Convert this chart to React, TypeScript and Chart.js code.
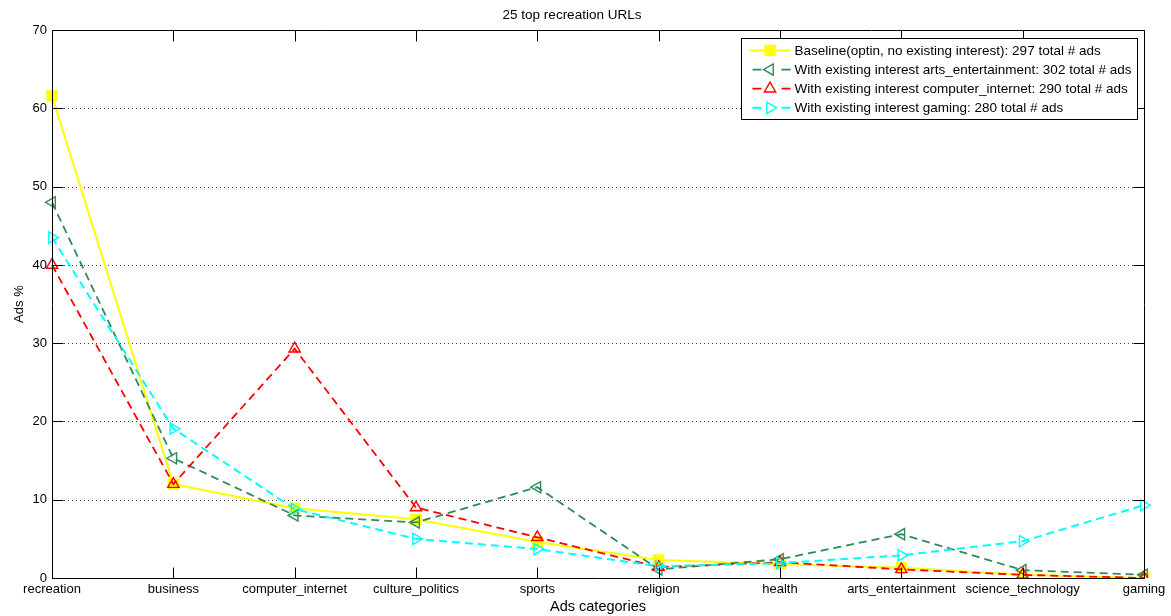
import React, { useEffect, useRef } from "react";
import { Chart, registerables } from "chart.js";

Chart.register(...registerables);

const FONT = "'Liberation Sans', Arial, Helvetica, sans-serif";

const categories = [
  "recreation",
  "business",
  "computer_internet",
  "culture_politics",
  "sports",
  "religion",
  "health",
  "arts_entertainment",
  "science_technology",
  "gaming",
];

const baselineValues = [61.6, 12.0, 8.9, 7.5, 4.6, 2.3, 1.8, 1.3, 0.4, 0.0];
const artsEntValues = [48.0, 15.3, 8.0, 7.1, 11.6, 1.1, 2.4, 5.6, 1.0, 0.4];
const compIntValues = [40.0, 12.0, 29.3, 9.0, 5.2, 1.4, 2.0, 1.1, 0.4, 0.0];
const gamingValues = [43.5, 19.1, 8.8, 5.0, 3.7, 1.5, 1.9, 2.9, 4.7, 9.3];

const seriesLabels = [
  "Baseline(optin, no existing interest): 297 total # ads",
  "With existing interest arts_entertainment: 302 total # ads",
  "With existing interest computer_internet: 290 total # ads",
  "With existing interest gaming: 280 total # ads",
];

const yTicks = [0, 10, 20, 30, 40, 50, 60, 70];

const titleText = "25 top recreation URLs";
const xTitle = "Ads categories";
const yTitle = "Ads %";

type SeriesStyle = {
  color: string;
  dashed: boolean;
  width: number;
  marker: "rect" | "triangle";
  rotation: number;
  filled: boolean;
  radius: number;
};

const seriesStyles: SeriesStyle[] = [
  { color: "#ffff00", dashed: false, width: 2, marker: "rect", rotation: 0, filled: true, radius: 7 },
  { color: "#2e8b57", dashed: true, width: 1.8, marker: "triangle", rotation: -90, filled: false, radius: 6.5 },
  { color: "#ff0000", dashed: true, width: 1.8, marker: "triangle", rotation: 0, filled: false, radius: 6.5 },
  { color: "#00ffff", dashed: true, width: 2, marker: "triangle", rotation: 90, filled: false, radius: 6.5 },
];

const DASH = [8, 5];

function drawMarker(
  ctx: CanvasRenderingContext2D,
  s: SeriesStyle,
  x: number,
  y: number,
  r: number
) {
  ctx.save();
  ctx.translate(x, y);
  ctx.rotate((s.rotation * Math.PI) / 180);
  ctx.beginPath();
  if (s.marker === "rect") {
    const h = r * Math.SQRT1_2;
    ctx.rect(-h, -h, 2 * h, 2 * h);
  } else {
    for (let k = 0; k < 3; k++) {
      const a = (k * 2 * Math.PI) / 3;
      const px = Math.sin(a) * r;
      const py = -Math.cos(a) * r;
      if (k === 0) ctx.moveTo(px, py);
      else ctx.lineTo(px, py);
    }
    ctx.closePath();
  }
  ctx.setLineDash([]);
  ctx.lineWidth = 1.4;
  ctx.strokeStyle = s.color;
  if (s.filled) {
    ctx.fillStyle = s.color;
    ctx.fill();
  }
  ctx.stroke();
  ctx.restore();
}

const framePlugin = {
  id: "matlabFrame",
  beforeDatasetsDraw(chart: any) {
    const { ctx, chartArea: ca, scales } = chart;
    const ys = scales.y;
    ctx.save();
    ctx.strokeStyle = "#444";
    ctx.lineWidth = 1;
    ctx.setLineDash([1, 3]);
    yTicks.forEach((v) => {
      if (v === yTicks[0] || v === yTicks[yTicks.length - 1]) return;
      const py = Math.round(ys.getPixelForValue(v)) + 0.5;
      ctx.beginPath();
      ctx.moveTo(ca.left, py);
      ctx.lineTo(ca.right, py);
      ctx.stroke();
    });
    ctx.restore();
  },
  afterDatasetsDraw(chart: any) {
    const { ctx, chartArea: ca, scales } = chart;
    const xs = scales.x;
    const ys = scales.y;
    const L = Math.round(ca.left) + 0.5;
    const R = Math.round(ca.right) + 0.5;
    const T = Math.round(ca.top) + 0.5;
    const B = Math.round(ca.bottom) + 0.5;
    const tl = 11;
    ctx.save();
    ctx.setLineDash([]);
    ctx.strokeStyle = "#000";
    ctx.lineWidth = 1;
    ctx.beginPath();
    ctx.rect(L, T, R - L, B - T);
    ctx.stroke();
    ctx.beginPath();
    categories.forEach((_, i) => {
      const px = Math.round(xs.getPixelForValue(i)) + 0.5;
      ctx.moveTo(px, B);
      ctx.lineTo(px, B - tl);
      ctx.moveTo(px, T);
      ctx.lineTo(px, T + tl);
    });
    yTicks.forEach((v) => {
      const py = Math.round(ys.getPixelForValue(v)) + 0.5;
      ctx.moveTo(L, py);
      ctx.lineTo(L + tl, py);
      ctx.moveTo(R, py);
      ctx.lineTo(R - tl, py);
    });
    ctx.stroke();

    // legend
    ctx.font = `13.5px ${FONT}`;
    const maxW = Math.max(...seriesLabels.map((t) => ctx.measureText(t).width));
    const boxW = 8 + 41 + 4 + maxW + 7;
    const bRight = Math.round(ca.right - 7) + 0.5;
    const bLeft = Math.round(bRight - boxW) + 0.5;
    const bTop = Math.round(ca.top + 8) + 0.5;
    const rowH = 19.1;
    const boxH = 81;
    ctx.fillStyle = "#fff";
    ctx.fillRect(bLeft, bTop, bRight - bLeft, boxH);
    ctx.strokeStyle = "#000";
    ctx.lineWidth = 1;
    ctx.strokeRect(bLeft, bTop, bRight - bLeft, boxH);
    seriesLabels.forEach((label, i) => {
      const s = seriesStyles[i];
      const yy = bTop + 12 + i * rowH;
      const x0 = bLeft + 8;
      const x1 = x0 + 41;
      const xm = (x0 + x1) / 2;
      ctx.strokeStyle = s.color;
      ctx.lineWidth = s.width;
      ctx.setLineDash([]);
      ctx.beginPath();
      if (s.dashed) {
        ctx.moveTo(x0 + 3, yy);
        ctx.lineTo(x0 + 12, yy);
        ctx.moveTo(x1 - 9, yy);
        ctx.lineTo(x1, yy);
      } else {
        ctx.moveTo(x0, yy);
        ctx.lineTo(x1, yy);
      }
      ctx.stroke();
      drawMarker(ctx, s, xm, yy, s.radius);
      ctx.fillStyle = "#000";
      ctx.textAlign = "left";
      ctx.textBaseline = "middle";
      ctx.font = `13.5px ${FONT}`;
      ctx.fillText(label, x1 + 4, yy + 0.5);
    });
    ctx.restore();
  },
};

export default function App() {
  const canvasRef = useRef<HTMLCanvasElement | null>(null);

  useEffect(() => {
    document.body.style.margin = "0";
    const canvas = canvasRef.current;
    if (!canvas) return;
    Chart.defaults.font.family = FONT;
    const seriesValues = [baselineValues, artsEntValues, compIntValues, gamingValues];
    const chart = new Chart(canvas, {
      type: "line",
      data: {
        labels: categories,
        datasets: seriesValues.map((vals, i) => {
          const s = seriesStyles[i];
          return {
            label: seriesLabels[i],
            data: vals,
            borderColor: s.color,
            backgroundColor: s.color,
            borderWidth: s.width,
            borderDash: s.dashed ? DASH : [],
            pointStyle: s.marker,
            pointRotation: s.rotation,
            pointRadius: s.radius,
            pointHoverRadius: s.radius,
            pointBorderColor: s.color,
            pointBackgroundColor: s.filled ? s.color : "rgba(0,0,0,0)",
            pointBorderWidth: 1.4,
            tension: 0,
            fill: false,
            order: 4 - i,
          } as any;
        }),
      },
      options: {
        animation: false,
        responsive: false,
        maintainAspectRatio: false,
        layout: { padding: { left: 0, right: 27, top: 0, bottom: 0 } },
        plugins: {
          legend: { display: false },
          tooltip: { enabled: false },
          title: {
            display: true,
            text: titleText,
            color: "#000",
            font: { family: FONT, size: 13.5, weight: "normal" },
            padding: { top: 7, bottom: 7 },
          },
        },
        scales: {
          x: {
            type: "category",
            offset: false,
            grid: { display: false, drawTicks: false },
            border: { display: false },
            ticks: {
              color: "#000",
              font: { family: FONT, size: 13 },
              padding: 4,
              maxRotation: 0,
              minRotation: 0,
              autoSkip: false,
            },
            title: {
              display: true,
              text: xTitle,
              color: "#000",
              font: { family: FONT, size: 14.5 },
              padding: { top: 0, bottom: 0 },
            },
            afterFit(scale: any) {
              scale.height = 38;
            },
          },
          y: {
            min: 0,
            max: 70,
            grid: { display: false, drawTicks: false },
            border: { display: false },
            ticks: {
              stepSize: 10,
              color: "#000",
              font: { family: FONT, size: 13 },
              padding: 5,
            },
            title: {
              display: true,
              text: yTitle,
              color: "#000",
              font: { family: FONT, size: 13 },
              padding: { top: 12, bottom: 0 },
            },
            afterFit(scale: any) {
              scale.width = 52;
            },
          },
        },
      },
      plugins: [framePlugin],
    });
    return () => chart.destroy();
  }, []);

  return (
    <div style={{ width: 1171, height: 616, position: "relative", background: "#fff" }}>
      <canvas ref={canvasRef} width={1171} height={616} style={{ display: "block" }} />
    </div>
  );
}
